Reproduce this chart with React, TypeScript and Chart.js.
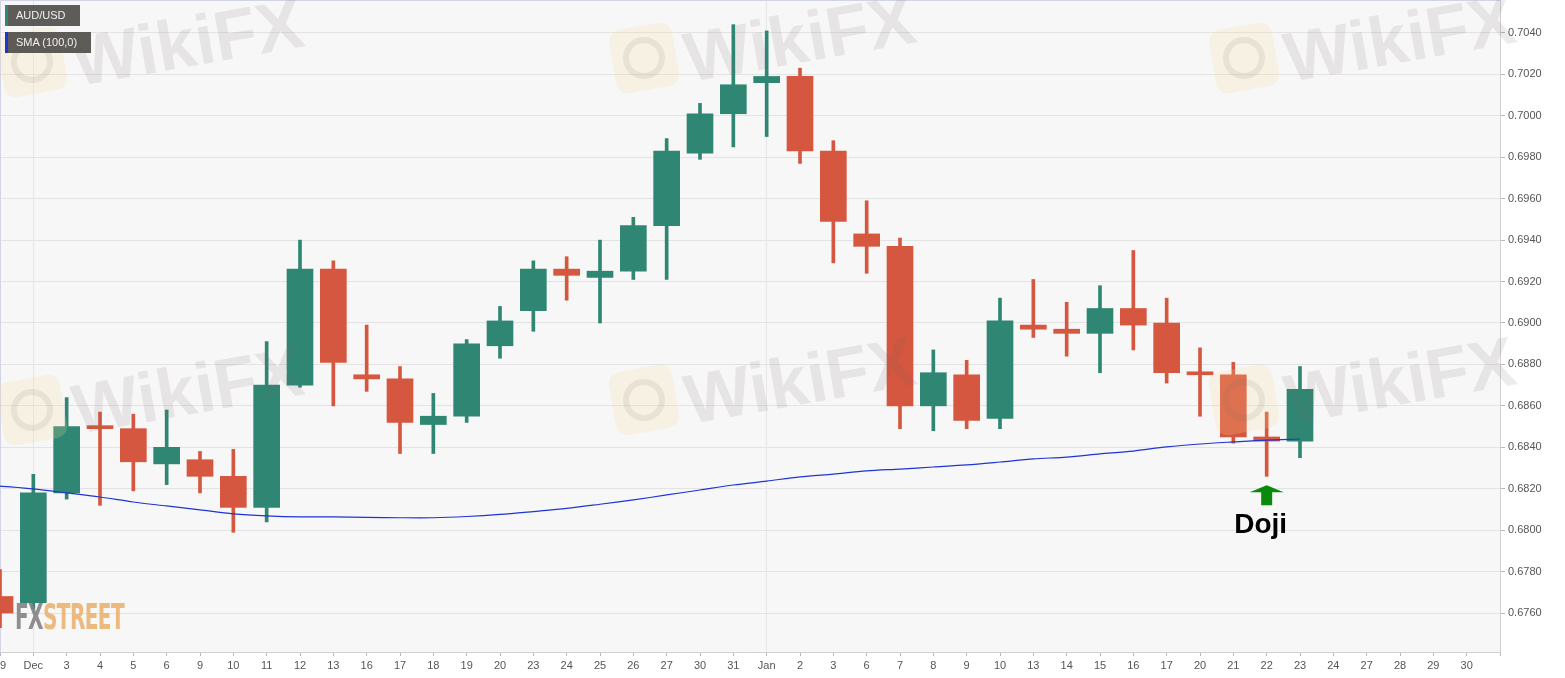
import React, { useEffect, useRef } from 'react';
import { Chart, registerables } from 'chart.js';

Chart.register(...registerables);

// ---- data ----
const dateLabels = ['29', 'Dec', '3', '4', '5', '6', '9', '10', '11', '12', '13', '16', '17', '18', '19', '20', '23', '24', '25', '26', '27', '30', '31', 'Jan', '2', '3', '6', '7', '8', '9', '10', '13', '14', '15', '16', '17', '20', '21', '22', '23', '24', '27', '28', '29', '30', ''];

const opens = [0.6768, 0.6765, 0.6818, 0.6850, 0.6849, 0.6832, 0.6834, 0.6826, 0.6811, 0.6870, 0.6926, 0.6875, 0.6873, 0.6851, 0.6855, 0.6889, 0.6906, 0.6926, 0.6922, 0.6925, 0.6947, 0.6982, 0.7001, 0.7016, 0.7019, 0.6983, 0.6943, 0.6937, 0.6860, 0.6875, 0.6854, 0.6899, 0.6897, 0.6895, 0.6907, 0.6900, 0.6876, 0.6875, 0.6845, 0.6843];
const highs = [0.6781, 0.6827, 0.6864, 0.6857, 0.6856, 0.6858, 0.6838, 0.6839, 0.6891, 0.6940, 0.6930, 0.6899, 0.6879, 0.6866, 0.6892, 0.6908, 0.6930, 0.6932, 0.6940, 0.6951, 0.6989, 0.7006, 0.7044, 0.7041, 0.7023, 0.6988, 0.6959, 0.6941, 0.6887, 0.6882, 0.6912, 0.6921, 0.6910, 0.6918, 0.6935, 0.6912, 0.6888, 0.6881, 0.6857, 0.6879];
const lows = [0.6753, 0.6762, 0.6815, 0.6812, 0.6819, 0.6822, 0.6818, 0.6799, 0.6804, 0.6869, 0.6860, 0.6867, 0.6837, 0.6837, 0.6852, 0.6883, 0.6896, 0.6911, 0.6900, 0.6921, 0.6921, 0.6979, 0.6985, 0.6990, 0.6977, 0.6929, 0.6924, 0.6849, 0.6848, 0.6849, 0.6849, 0.6893, 0.6884, 0.6876, 0.6887, 0.6871, 0.6855, 0.6842, 0.6826, 0.6835];
const closes = [0.6760, 0.6818, 0.6850, 0.6849, 0.6833, 0.6840, 0.6826, 0.6811, 0.6870, 0.6926, 0.6881, 0.6873, 0.6852, 0.6855, 0.6890, 0.6901, 0.6926, 0.6923, 0.6925, 0.6947, 0.6983, 0.7001, 0.7015, 0.7019, 0.6983, 0.6949, 0.6937, 0.6860, 0.6876, 0.6853, 0.6901, 0.6897, 0.6895, 0.6907, 0.6899, 0.6876, 0.6875, 0.6845, 0.6843, 0.6868];

const sma100 = [0.68213, 0.68199, 0.6818, 0.6816, 0.68136, 0.68117, 0.68098, 0.68079, 0.68069, 0.68064, 0.68064, 0.68062, 0.6806, 0.6806, 0.68066, 0.68076, 0.6809, 0.68105, 0.68125, 0.68146, 0.6817, 0.68194, 0.68218, 0.68237, 0.68257, 0.68271, 0.68286, 0.68295, 0.68305, 0.68315, 0.68329, 0.68344, 0.68353, 0.68368, 0.68382, 0.68402, 0.68416, 0.68426, 0.68435, 0.6844];

const monthStartIndexes = [1, 23];
const dojiIndex = 38;
const yMin = 0.67412;
const yMax = 0.70559;
const yStep = 0.002;

const UP = '#2f8773';
const DOWN = '#d6573f';

const watermarkSpots = [
  [0, 30], [612, 26], [1212, 26],
  [0, 378], [612, 368], [1212, 368],
];

function Watermark({ x, y }: { x: number; y: number }) {
  return (
    <>
      <div style={{
        position: 'absolute', left: x, top: y, width: 64, height: 64,
        borderRadius: 12, background: 'rgba(250,222,150,0.2)',
        transform: 'rotate(-10deg)', pointerEvents: 'none',
        display: 'flex', alignItems: 'center', justifyContent: 'center',
      }}>
        <div style={{ width: 42, height: 42, borderRadius: 21, border: '6px solid rgba(120,105,100,0.12)', boxSizing: 'border-box' }} />
      </div>
      <div style={{
        position: 'absolute', left: x + 80, top: y - 8, pointerEvents: 'none',
        font: 'bold 70px "Liberation Sans", Arial, sans-serif',
        color: 'rgba(115,100,100,0.13)', transform: 'rotate(-10deg)',
        transformOrigin: 'left bottom', whiteSpace: 'nowrap',
      }}>WikiFX</div>
    </>
  );
}

export default function App() {
  const canvasRef = useRef<HTMLCanvasElement>(null);

  useEffect(() => {
    document.body.style.margin = '0';
    const canvas = canvasRef.current;
    if (!canvas) return;
    const colors = opens.map((o, i) => (closes[i] >= o ? UP : DOWN));

    const framePlugin = {
      id: 'frame',
      beforeDraw(chart: any) {
        const { ctx, chartArea } = chart;
        const { left, top, right, bottom } = chartArea;
        ctx.save();
        ctx.fillStyle = '#f7f7f7';
        ctx.fillRect(left, top, right - left, bottom - top);
        ctx.restore();
      },
      beforeDatasetsDraw(chart: any) {
        const { ctx, chartArea } = chart;
        const { left, top, right, bottom } = chartArea;
        ctx.save();
        ctx.strokeStyle = '#d3d3e6';
        ctx.lineWidth = 1;
        ctx.beginPath();
        ctx.moveTo(left + 0.5, bottom);
        ctx.lineTo(left + 0.5, top + 0.5);
        ctx.lineTo(right, top + 0.5);
        ctx.stroke();
        ctx.restore();
      },
      afterDraw(chart: any) {
        const { ctx } = chart;
        const xs = chart.scales.x;
        const ys = chart.scales.y;
        const cx = xs.getPixelForValue(dojiIndex);
        const tipY = ys.getPixelForValue(lows[dojiIndex]) + 9;
        ctx.save();
        ctx.fillStyle = '#0a8a0a';
        ctx.beginPath();
        ctx.moveTo(cx, tipY);
        ctx.lineTo(cx + 17, tipY + 7);
        ctx.lineTo(cx + 5.5, tipY + 7);
        ctx.lineTo(cx + 5.5, tipY + 20);
        ctx.lineTo(cx - 5.5, tipY + 20);
        ctx.lineTo(cx - 5.5, tipY + 7);
        ctx.lineTo(cx - 17, tipY + 7);
        ctx.closePath();
        ctx.fill();
        ctx.fillStyle = '#000';
        ctx.font = 'bold 28px "Liberation Sans", Arial, sans-serif';
        ctx.textAlign = 'center';
        ctx.textBaseline = 'alphabetic';
        ctx.fillText('Doji', cx - 6, tipY + 48);
        ctx.restore();
      },
    };

    const chart = new Chart(canvas, {
      type: 'bar',
      data: {
        labels: dateLabels,
        datasets: [
          {
            type: 'line',
            label: 'SMA (100,0)',
            data: sma100,
            borderColor: '#1e34d4',
            borderWidth: 1.2,
            pointRadius: 0,
            tension: 0.3,
            order: 0,
          } as any,
          {
            label: 'AUD/USD',
            data: opens.map((o, i) => [o, closes[i]]),
            backgroundColor: colors,
            barThickness: 26,
            grouped: false,
            minBarLength: 3,
            borderWidth: 0,
            order: 1,
          } as any,
          {
            label: 'wicks',
            data: lows.map((l, i) => [l, highs[i]]),
            backgroundColor: colors,
            barThickness: 3,
            grouped: false,
            borderWidth: 0,
            order: 2,
          } as any,
        ],
      },
      options: {
        animation: false,
        responsive: false,
        events: [],
        layout: { padding: 0 },
        plugins: { legend: { display: false }, tooltip: { enabled: false } },
        scales: {
          x: {
            type: 'category',
            offset: false,
            grid: {
              offset: false,
              color: (c: any) => (monthStartIndexes.includes(c.index) ? '#e6e6e6' : 'rgba(0,0,0,0)'),
              tickColor: '#b8b8b8',
              tickLength: 4,
            },
            border: { color: '#d0d0d0' },
            ticks: {
              autoSkip: false,
              maxRotation: 0,
              minRotation: 0,
              color: '#555',
              font: { family: '"Liberation Sans", Arial, sans-serif', size: 11 },
              padding: 3,
            },
            afterFit(s: any) {
              s.height = 26;
              s.paddingLeft = 0;
              s.paddingRight = 0;
            },
          } as any,
          y: {
            type: 'linear',
            position: 'right',
            min: yMin,
            max: yMax,
            grid: { color: '#e3e3e3', tickColor: '#b8b8b8', tickLength: 5 },
            border: { color: '#d0d0d0' },
            ticks: {
              stepSize: yStep,
              includeBounds: false,
              color: '#555',
              font: { family: '"Liberation Sans", Arial, sans-serif', size: 11 },
              padding: 3,
              callback: (v: any) => Number(v).toFixed(4),
            },
            afterFit(s: any) {
              s.width = 65;
              s.paddingTop = 0;
              s.paddingBottom = 0;
            },
          } as any,
        },
      },
      plugins: [framePlugin],
    });
    return () => chart.destroy();
  }, []);

  const legendBox = (top: number, stripe: string, text: string): React.ReactElement => (
    <div style={{
      position: 'absolute', left: 5, top, height: 21, padding: '0 14px 0 8px',
      background: 'rgba(80,78,75,0.92)', borderLeft: `3px solid ${stripe}`,
      boxSizing: 'border-box', color: '#f2f2f2',
      font: '11px "Liberation Sans", Arial, sans-serif', lineHeight: '21px',
      whiteSpace: 'nowrap',
    }}>{text}</div>
  );

  return (
    <div style={{ position: 'relative', width: 1565, height: 678, overflow: 'hidden', background: '#fff' }}>
      <canvas ref={canvasRef} width={1565} height={678} style={{ position: 'absolute', left: 0, top: 0 }} />
      {watermarkSpots.map(([x, y], i) => <Watermark key={i} x={x} y={y} />)}
      {legendBox(5, '#2f8773', 'AUD/USD')}
      {legendBox(32, '#1e34d4', 'SMA (100,0)')}
      <div style={{
        position: 'absolute', left: 15, top: 597, pointerEvents: 'none',
        font: 'bold 36px "Liberation Sans Narrow", "DejaVu Sans Condensed", sans-serif',
        letterSpacing: '-1px', transform: 'scaleX(0.62)', transformOrigin: 'left top',
        whiteSpace: 'nowrap', lineHeight: '40px',
      }}>
        <span style={{ color: 'rgba(130,130,130,0.9)' }}>FX</span>
        <span style={{ color: 'rgba(234,178,112,0.9)' }}>STREET</span>
      </div>
    </div>
  );
}
